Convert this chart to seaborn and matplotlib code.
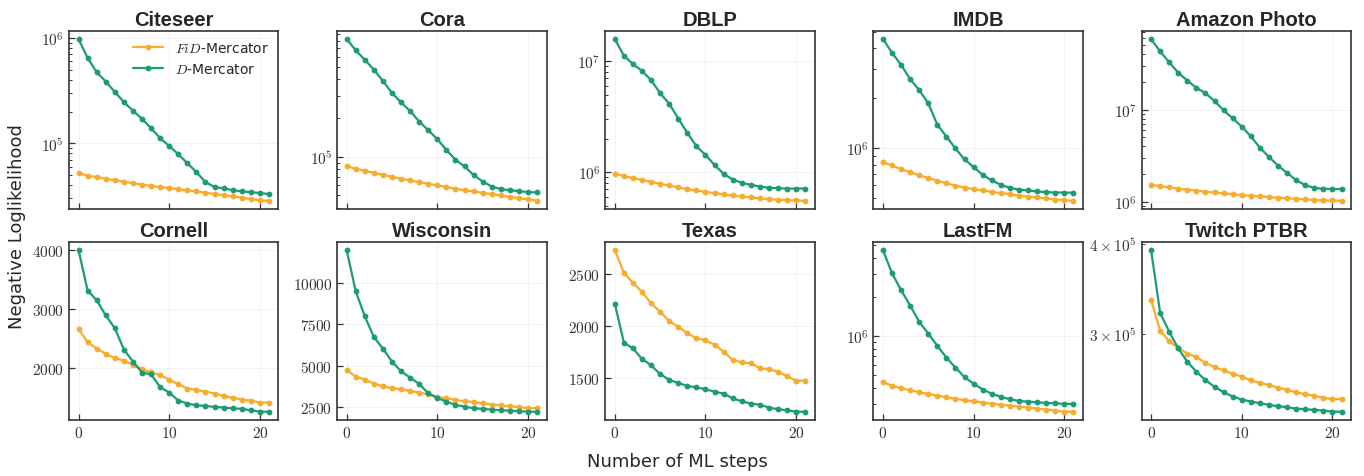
import numpy as np
import pandas as pd
import matplotlib
matplotlib.use("Agg")
import matplotlib.pyplot as plt
import matplotlib.ticker as mticker
import seaborn as sns

steps = list(range(22))

datasets = ["Citeseer", "Cora", "DBLP", "IMDB", "Amazon Photo",
            "Cornell", "Wisconsin", "Texas", "LastFM", "Twitch PTBR"]
log_scale = [True, True, True, True, True, False, False, False, True, True]
linear_tick_step = [None, None, None, None, None, 1000, 2500, 500, None, None]
methods = ["$FiD$-Mercator", "$D$-Mercator"]

citeseer_fid = [52.0e3, 49.4e3, 47.7e3, 45.9e3, 44.6e3, 43.1e3, 41.8e3, 40.6e3, 39.4e3, 38.3e3, 37.5e3,
                36.7e3, 35.7e3, 34.9e3, 33.9e3, 32.9e3, 32.2e3, 31.3e3, 30.4e3, 29.5e3, 28.7e3, 28.4e3]
citeseer_d = [978e3, 647e3, 473e3, 386e3, 308e3, 246e3, 204e3, 171e3, 139e3, 112e3, 94.3e3,
              78.7e3, 64.7e3, 53.2e3, 42.8e3, 38.4e3, 37.3e3, 35.9e3, 34.9e3, 34.4e3, 33.7e3, 32.9e3]

cora_fid = [84.6e3, 80.6e3, 77.8e3, 75.0e3, 72.4e3, 69.9e3, 67.4e3, 65.4e3, 63.5e3, 61.7e3, 59.9e3,
            58.1e3, 56.4e3, 55.0e3, 53.7e3, 52.4e3, 51.2e3, 50.0e3, 48.8e3, 47.6e3, 46.6e3, 45.4e3]
cora_d = [826e3, 675e3, 570e3, 477e3, 389e3, 314e3, 265e3, 227e3, 188e3, 161e3, 137e3,
          113e3, 94.8e3, 84.1e3, 72.0e3, 64.2e3, 58.7e3, 56.0e3, 55.0e3, 54.0e3, 53.1e3, 52.8e3]

dblp_fid = [966e3, 927e3, 883e3, 853e3, 818e3, 785e3, 759e3, 728e3, 703e3, 684e3, 666e3,
            647e3, 630e3, 617e3, 604e3, 592e3, 580e3, 572e3, 564e3, 560e3, 556e3, 552e3]
dblp_d = [15.8e6, 11.2e6, 9.39e6, 8.18e6, 6.74e6, 5.15e6, 4.13e6, 3.04e6, 2.26e6, 1.71e6, 1.43e6,
          1.16e6, 966e3, 859e3, 802e3, 769e3, 743e3, 723e3, 717e3, 712e3, 712e3, 712e3]

imdb_fid = [827e3, 790e3, 751e3, 720e3, 690e3, 665e3, 638e3, 618e3, 598e3, 582e3, 569e3,
            559e3, 548e3, 538e3, 531e3, 521e3, 514e3, 507e3, 500e3, 493e3, 489e3, 484e3]
imdb_d = [4.56e6, 3.77e6, 3.19e6, 2.61e6, 2.25e6, 1.87e6, 1.39e6, 1.18e6, 1.00e6, 859e3, 773e3,
          694e3, 642e3, 604e3, 580e3, 566e3, 559e3, 551e3, 546e3, 543e3, 543e3, 541e3]

amazon_fid = [1.53e6, 1.47e6, 1.43e6, 1.38e6, 1.35e6, 1.32e6, 1.28e6, 1.26e6, 1.23e6, 1.20e6, 1.18e6,
              1.16e6, 1.14e6, 1.12e6, 1.10e6, 1.09e6, 1.07e6, 1.06e6, 1.04e6, 1.03e6, 1.03e6, 1.02e6]
amazon_d = [58.6e6, 43.0e6, 32.7e6, 25.2e6, 20.7e6, 17.3e6, 15.1e6, 12.4e6, 9.84e6, 8.05e6, 6.54e6,
            5.13e6, 3.86e6, 3.06e6, 2.46e6, 2.05e6, 1.71e6, 1.51e6, 1.41e6, 1.38e6, 1.37e6, 1.37e6]

cornell_fid = [2663, 2436, 2329, 2238, 2164, 2125, 2051, 1977, 1926, 1875, 1802,
               1722, 1649, 1626, 1598, 1564, 1524, 1490, 1462, 1445, 1411, 1411]
cornell_d = [4000, 3314, 3150, 2890, 2674, 2312, 2108, 1921, 1892, 1671, 1581,
             1445, 1394, 1365, 1354, 1337, 1326, 1314, 1303, 1280, 1258, 1252]

wisconsin_fid = [4747, 4346, 4166, 3925, 3765, 3644, 3584, 3484, 3384, 3283, 3123,
                 3043, 2942, 2862, 2822, 2742, 2662, 2622, 2562, 2501, 2441, 2441]
wisconsin_d = [11965, 9479, 7975, 6732, 6030, 5248, 4667, 4286, 3905, 3343, 3063,
               2842, 2642, 2541, 2441, 2401, 2361, 2321, 2301, 2261, 2241, 2221]

texas_fid = [2728, 2510, 2413, 2327, 2215, 2135, 2045, 1990, 1926, 1881, 1859,
             1817, 1750, 1670, 1647, 1638, 1593, 1580, 1558, 1513, 1471, 1471]
texas_d = [2212, 1837, 1782, 1680, 1619, 1535, 1478, 1449, 1420, 1407, 1388,
           1365, 1346, 1301, 1272, 1250, 1240, 1212, 1196, 1186, 1173, 1170]

lastfm_fid = [443e3, 417e3, 398e3, 384e3, 371e3, 360e3, 350e3, 340e3, 331e3, 322e3, 316e3,
              309e3, 303e3, 298e3, 293e3, 288e3, 283e3, 278e3, 273e3, 268e3, 263e3, 262e3]
lastfm_d = [4.59e6, 3.05e6, 2.26e6, 1.72e6, 1.29e6, 1.048e6, 843e3, 685e3, 574e3, 484e3, 432e3,
            389e3, 362e3, 342e3, 328e3, 318e3, 314e3, 311e3, 307e3, 305e3, 302e3, 302e3]

twitch_fid = [334.2e3, 302.9e3, 292.7e3, 286.6e3, 281.5e3, 278.4e3, 273.1e3, 269.6e3, 266.7e3, 263.9e3, 261.4e3,
              258.3e3, 256.3e3, 254.4e3, 252.3e3, 250.7e3, 248.5e3, 247.2e3, 245.9e3, 244.3e3, 243.3e3, 243.3e3]
twitch_d = [392e3, 320.6e3, 301.9e3, 286.1e3, 274.2e3, 265.5e3, 258.5e3, 253.0e3, 248.7e3, 245.3e3, 242.9e3,
            241.4e3, 240.1e3, 238.8e3, 237.8e3, 237.1e3, 236.0e3, 235.5e3, 235.0e3, 234.5e3, 233.8e3, 233.5e3]

fid_series = [citeseer_fid, cora_fid, dblp_fid, imdb_fid, amazon_fid,
              cornell_fid, wisconsin_fid, texas_fid, lastfm_fid, twitch_fid]
d_series = [citeseer_d, cora_d, dblp_d, imdb_d, amazon_d,
            cornell_d, wisconsin_d, texas_d, lastfm_d, twitch_d]

colors = {"$FiD$-Mercator": "#F7AC2B", "$D$-Mercator": "#1B9C76"}

rows = []
for name, fid, dd in zip(datasets, fid_series, d_series):
    for s, v in zip(steps, fid):
        rows.append((name, methods[0], s, v))
    for s, v in zip(steps, dd):
        rows.append((name, methods[1], s, v))
df = pd.DataFrame(rows, columns=["dataset", "method", "step", "nll"])

sns.set_theme(style="ticks")
plt.rcParams["font.family"] = ["DejaVu Sans"]
plt.rcParams["mathtext.fontset"] = "cm"
plt.rcParams["xtick.bottom"] = True
plt.rcParams["ytick.left"] = True


class CMLogFormatter(mticker.LogFormatterSciNotation):
    def __call__(self, x, pos=None):
        s = super().__call__(x, pos)
        return s.replace("\\mathdefault", "")


def lin_fmt(v, pos=None):
    return "$%d$" % int(round(v))


fig, axes = plt.subplots(2, 5, figsize=(13.64, 4.77), dpi=100, sharex=True)
plt.subplots_adjust(left=0.0506, right=0.9905, top=0.933, bottom=0.1174,
                    wspace=0.28, hspace=0.186)

for i, (ax, name) in enumerate(zip(axes.flat, datasets)):
    sub = df[df["dataset"] == name]
    sns.lineplot(data=sub, x="step", y="nll", hue="method", hue_order=methods,
                 palette=colors, marker="o", markersize=4.2, markeredgewidth=0,
                 linewidth=1.6, ax=ax, legend=(i == 0))
    if log_scale[i]:
        ax.set_yscale("log")
        ax.yaxis.set_major_formatter(CMLogFormatter())
        ax.yaxis.set_minor_formatter(CMLogFormatter(labelOnlyBase=False))
    else:
        ax.yaxis.set_major_locator(mticker.MultipleLocator(linear_tick_step[i]))
        ax.yaxis.set_major_formatter(mticker.FuncFormatter(lin_fmt))
    ax.xaxis.set_major_locator(mticker.FixedLocator([0, 10, 20]))
    ax.xaxis.set_major_formatter(mticker.FuncFormatter(lin_fmt))
    ax.set_xlabel("")
    ax.set_ylabel("")
    ax.set_title(name, fontsize=14.5, fontweight="bold", family="Liberation Sans", pad=4)
    ax.grid(True, which="major", color="#f0f0f0", linewidth=0.6)
    ax.set_axisbelow(True)
    for sp in ax.spines.values():
        sp.set_visible(True)
        sp.set_color("#333333")
        sp.set_linewidth(1.2)
    ax.tick_params(axis="both", which="major", direction="in", length=4, width=0.9,
                   color="#333333", labelsize=11, labelcolor="#333333",
                   left=True, bottom=True)
    ax.tick_params(axis="y", which="minor", direction="in", length=2.2, width=0.7,
                   color="#333333", labelsize=11, labelcolor="#333333", left=True)
    if i == 0:
        leg = ax.legend(loc="upper right", frameon=False, fontsize=10,
                        handlelength=2.2, borderaxespad=0.3)

fig.text(0.0125, 0.525, "Negative Loglikelihood", rotation=90, fontsize=13,
         ha="center", va="center")
fig.text(0.497, 0.031, "Number of ML steps", fontsize=13, ha="center", va="center")

fig.savefig("out.png", dpi=100)
